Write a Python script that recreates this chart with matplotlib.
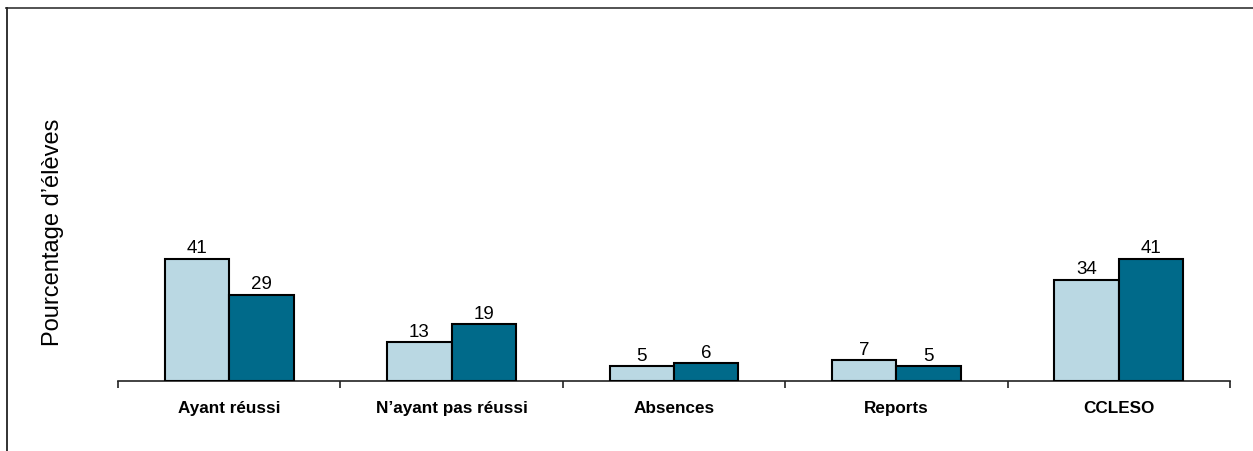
import matplotlib
matplotlib.use("Agg")
import matplotlib.pyplot as plt
from matplotlib.lines import Line2D
import numpy as np

categories = ["Ayant réussi", "N’ayant pas réussi", "Absences", "Reports", "CCLESO"]
series_a = [41, 13, 5, 7, 34]
series_b = [29, 19, 6, 5, 41]
ylabel = "Pourcentage d’élèves"

plt.rcParams['font.family'] = ['Liberation Sans', 'DejaVu Sans']

W, H = 1253, 451
fig = plt.figure(figsize=(W / 100, H / 100), dpi=100)
ax = fig.add_axes([118 / W, 1 - 381 / H, (1230 - 118) / W, (381 - 83) / H])

x = np.arange(len(categories))
bw = 0.29
light = "#BAD8E3"
dark = "#006A8A"
b1 = ax.bar(x - bw / 2, series_a, bw, color=light, edgecolor="black", linewidth=1.5, zorder=3)
b2 = ax.bar(x + bw / 2, series_b, bw, color=dark, edgecolor="black", linewidth=1.5, zorder=3)

for bars, vals in ((b1, series_a), (b2, series_b)):
    for r, v in zip(bars, vals):
        ax.annotate(str(v), (r.get_x() + r.get_width() / 2, r.get_height()),
                    xytext=(0, 1.0), textcoords="offset points",
                    ha="center", va="bottom", fontsize=13.5)

ax.set_xlim(-0.5, len(categories) - 0.5)
ax.set_ylim(0, 100)
ax.set_xticks(np.arange(len(categories) + 1) - 0.5, minor=False)
ax.set_xticklabels([])
ax.set_xticks(x, minor=True)
ax.set_xticklabels(categories, minor=True, fontsize=12.3, fontweight="bold")
ax.tick_params(axis="x", which="major", length=5, width=1.2, direction="out", color="#222222")
ax.tick_params(axis="x", which="minor", length=0, pad=14.5)
ax.set_yticks([])
for s in ("top", "right", "left"):
    ax.spines[s].set_visible(False)
ax.spines["bottom"].set_linewidth(1.2)
ax.spines["bottom"].set_color("#222222")

fig.text(53 / W, 1 - 232 / H, ylabel, rotation=90, ha="center", va="center", fontsize=17)

# partial frame (top and left edges visible)
fig.add_artist(Line2D([6 / W, 1.0], [1 - 7.5 / H, 1 - 7.5 / H], transform=fig.transFigure, color="#444444", linewidth=1.3))
fig.add_artist(Line2D([6.5 / W, 6.5 / W], [0, 1 - 7.5 / H], transform=fig.transFigure, color="#222222", linewidth=1.3))

fig.savefig("out.png", dpi=100)
